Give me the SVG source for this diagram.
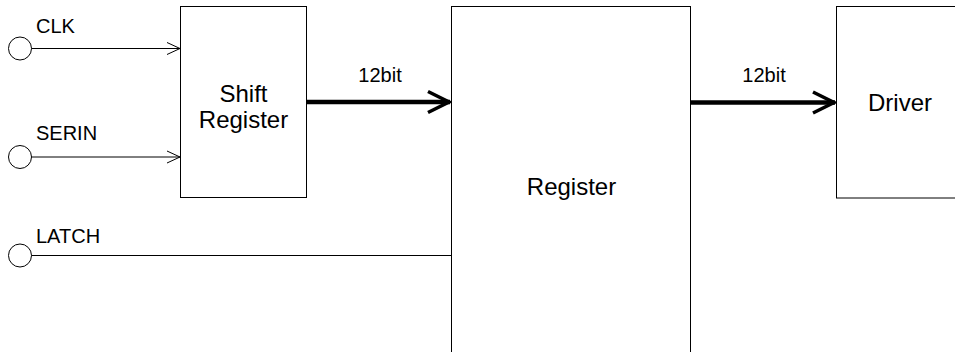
<svg xmlns="http://www.w3.org/2000/svg" width="955" height="352" viewBox="0 0 955 352">
<defs>
<style>
.box{fill:#fff;stroke:#000;stroke-width:1}
.t{font-family:"Liberation Sans",Arial,sans-serif;fill:#000}
.s{font-size:20px}
.l{font-size:24px}
.w{stroke:#000;stroke-width:1;fill:none}
.b{stroke:#000;stroke-width:4.5;fill:none}
.pin{fill:#fff;stroke:#000;stroke-width:1}
</style>
<marker id="ah" viewBox="0 0 16 16" refX="14" refY="8" markerWidth="16" markerHeight="16" markerUnits="userSpaceOnUse" orient="auto">
<path d="M1,2 L14,8 L1,14" fill="none" stroke="#000" stroke-width="1"/>
</marker>
<marker id="ahb" viewBox="0 0 26 26" refX="24" refY="13" markerWidth="26" markerHeight="26" markerUnits="userSpaceOnUse" orient="auto">
<path d="M2,2.5 L23,13 L2,23.5" fill="none" stroke="#000" stroke-width="3.5"/>
</marker>
</defs>
<g id="shift-register">
<rect class="box" x="180.5" y="6.5" width="126" height="191"/>
<text class="t l" x="243.5" y="102" text-anchor="middle">Shift</text>
<text class="t l" x="243.5" y="128" text-anchor="middle">Register</text>
</g>
<g id="register">
<rect class="box" x="451.5" y="6.5" width="239" height="360"/>
<text class="t l" x="571.5" y="195" text-anchor="middle">Register</text>
</g>
<g id="driver">
<rect class="box" x="836.5" y="6.5" width="130" height="191.5"/>
<text class="t l" x="900" y="111" text-anchor="middle">Driver</text>
</g>
<g id="clk">
<circle class="pin" cx="20" cy="48.5" r="11.5"/>
<text class="t s" x="36" y="33">CLK</text>
</g>
<g id="serin">
<circle class="pin" cx="20" cy="157" r="11.5"/>
<text class="t s" x="36" y="140">SERIN</text>
</g>
<g id="latch">
<circle class="pin" cx="20" cy="255.5" r="11.5"/>
<text class="t s" x="36" y="243">LATCH</text>
</g>
<g id="connectors">
<line class="w" x1="31.5" y1="48.5" x2="180" y2="48.5" marker-end="url(#ah)"/>
<line class="w" x1="31.5" y1="157" x2="180" y2="157" marker-end="url(#ah)"/>
<line class="w" x1="31.5" y1="255.5" x2="452" y2="255.5"/>
<line class="b" x1="307" y1="102" x2="450" y2="102" marker-end="url(#ahb)"/>
<line class="b" x1="691" y1="102.5" x2="835" y2="102.5" marker-end="url(#ahb)"/>
<text class="t s" x="380" y="82" text-anchor="middle">12bit</text>
<text class="t s" x="764" y="82" text-anchor="middle">12bit</text>
</g>
</svg>
